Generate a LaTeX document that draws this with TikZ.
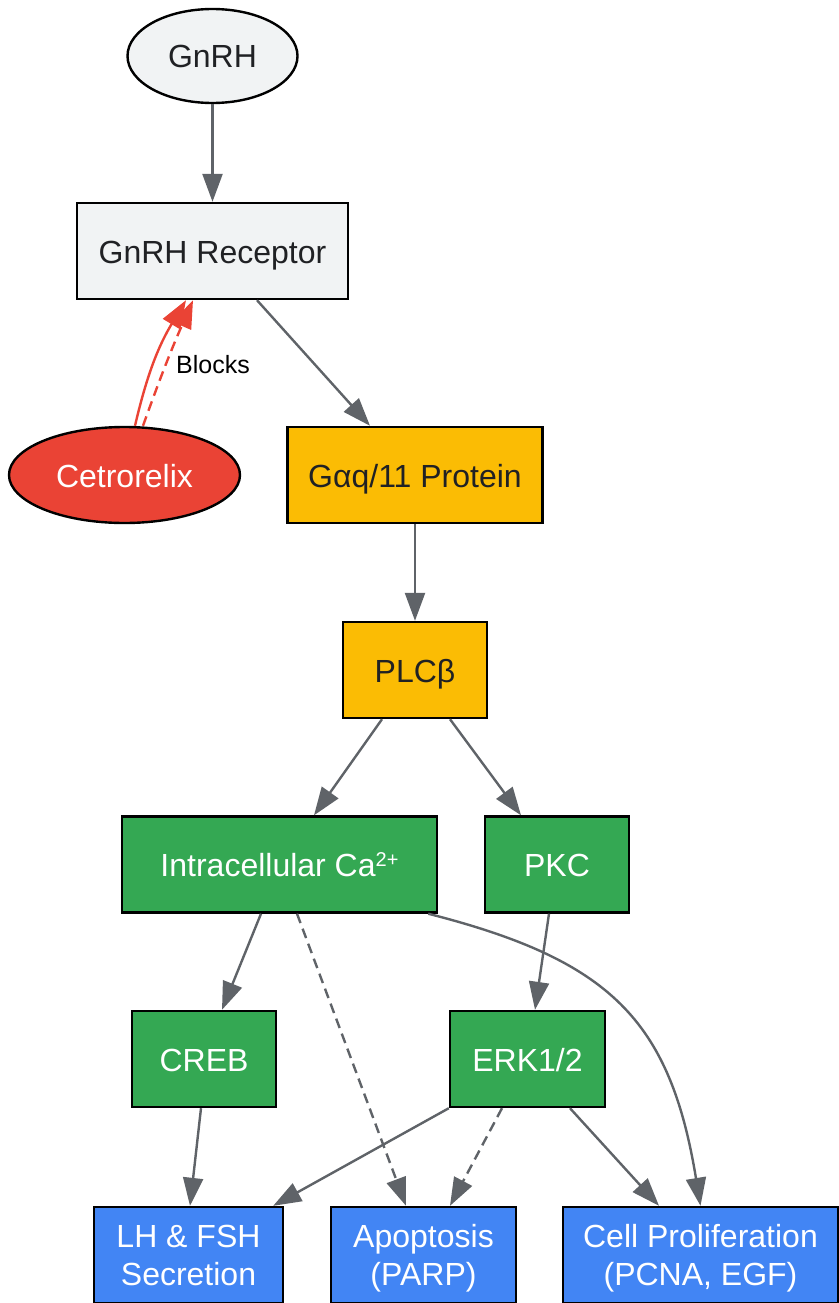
\documentclass[tikz,border=0pt]{standalone}
\usepackage{fontspec}
\setmainfont{Liberation Sans}
\usetikzlibrary{shapes.geometric,arrows.meta}
\definecolor{gfill}{HTML}{F1F3F4}
\definecolor{yfill}{HTML}{FBBC04}
\definecolor{grfill}{HTML}{34A853}
\definecolor{bfill}{HTML}{4285F4}
\definecolor{rfill}{HTML}{EA4335}
\definecolor{edgec}{HTML}{5F6368}
\definecolor{darkt}{HTML}{202124}
\newcommand{\nodepth}[1]{\raisebox{0pt}[\height][0pt]{#1}}
\begin{document}
\begin{tikzpicture}[x=1pt,y=-1pt,
  base/.style={draw=black,line width=2.4pt,inner sep=0pt,align=center,font=\fontsize{32}{38}\selectfont},
  oneline/.style={text height=24pt,text depth=0pt},
  box/.style={base,rectangle,minimum height=96pt},
  oval/.style={base,ellipse,oneline},
  graybox/.style={fill=gfill,text=darkt,oneline},
  yelbox/.style={fill=yfill,text=darkt,oneline},
  grnbox/.style={fill=grfill,text=white,oneline},
  blubox/.style={fill=bfill,text=white},
  redbox/.style={fill=rfill,text=white},
  conn/.style={draw=edgec,line width=2.4pt,-{Triangle[length=28pt,width=20pt]}},
  dconn/.style={conn,dash pattern=on 10pt off 6pt},
  rconn/.style={draw=rfill,line width=2.4pt,-{Triangle[length=28pt,width=20pt]}},
]
\useasboundingbox (0,0) rectangle (838,1303);
\node[oval,graybox,minimum width=170pt,minimum height=94pt] (gnrh) at (212.5,56) {GnRH};
\node[box,graybox,minimum width=271pt] (rec) at (212.5,251) {GnRH Receptor};
\node[oval,redbox,minimum width=231pt,minimum height=96pt] (cet) at (124.5,475) {Cetrorelix};
\node[box,yelbox,minimum width=255pt] (gaq) at (415,475) {Gαq/11 Protein};
\node[box,yelbox,minimum width=144pt] (plc) at (415,670) {PLCβ};
\node[box,grnbox,minimum width=315pt] (ca) at (279.5,864.5) {Intracellular Ca\raisebox{0.3em}{\fontsize{20}{20}\selectfont 2+}};
\node[box,grnbox,minimum width=144pt] (pkc) at (557,864.5) {PKC};
\node[box,grnbox,minimum width=144pt] (creb) at (204,1059) {CREB};
\node[box,grnbox,minimum width=155pt] (erk) at (527.5,1059) {ERK1/2};
\node[box,blubox,minimum width=189pt] (lh) at (188.5,1255) {LH \& FSH\\\nodepth{Secretion}};
\node[box,blubox,minimum width=185pt] (apo) at (423.5,1255) {Apoptosis\\\nodepth{(PARP)}};
\node[box,blubox,minimum width=275pt] (pro) at (700.5,1255) {Cell Proliferation\\\nodepth{(PCNA, EGF)}};

\draw[conn] (gnrh.south) -- (rec.north);
\draw[conn] ([xshift=44.5pt]rec.south) -- ([xshift=-45pt]gaq.north);
\draw[rconn] ([xshift=10.5pt]cet.north) to[bend left=9] ([xshift=-26.5pt]rec.south);
\draw[rconn,dash pattern=on 10pt off 6pt] ([xshift=18.5pt]cet.north) to[bend left=2] node[right,pos=0.5,xshift=5pt,yshift=-2pt,text=black,font=\fontsize{25}{30}\selectfont] (blk) {Blocks} ([xshift=-19.5pt]rec.south);
\draw[conn] (gaq.south) -- (plc.north);
\draw[conn] ([xshift=-33pt]plc.south) -- ([xshift=34.5pt]ca.north);
\draw[conn] ([xshift=35pt]plc.south) -- ([xshift=-36pt]pkc.north);
\draw[conn] ([xshift=-18.5pt]ca.south) -- ([xshift=18pt]creb.north);
\draw[dconn] ([xshift=17.5pt]ca.south) -- ([xshift=-17.5pt]apo.north);
\draw[conn] ([xshift=-10pt]ca.south east) .. controls (610,960) and (670,1020) .. (pro.north);
\draw[conn] ([xshift=-8pt]pkc.south) -- ([xshift=7.5pt]erk.north);
\draw[conn] ([xshift=-3pt]creb.south) -- ([xshift=1.5pt]lh.north);
\draw[conn] (erk.south west) -- ([xshift=-11pt]lh.north east);
\draw[dconn] ([xshift=-25.5pt]erk.south) -- ([xshift=26.5pt]apo.north);
\draw[conn] ([xshift=42.5pt]erk.south) -- ([xshift=-41.5pt]pro.north);
\end{tikzpicture}
\end{document}
